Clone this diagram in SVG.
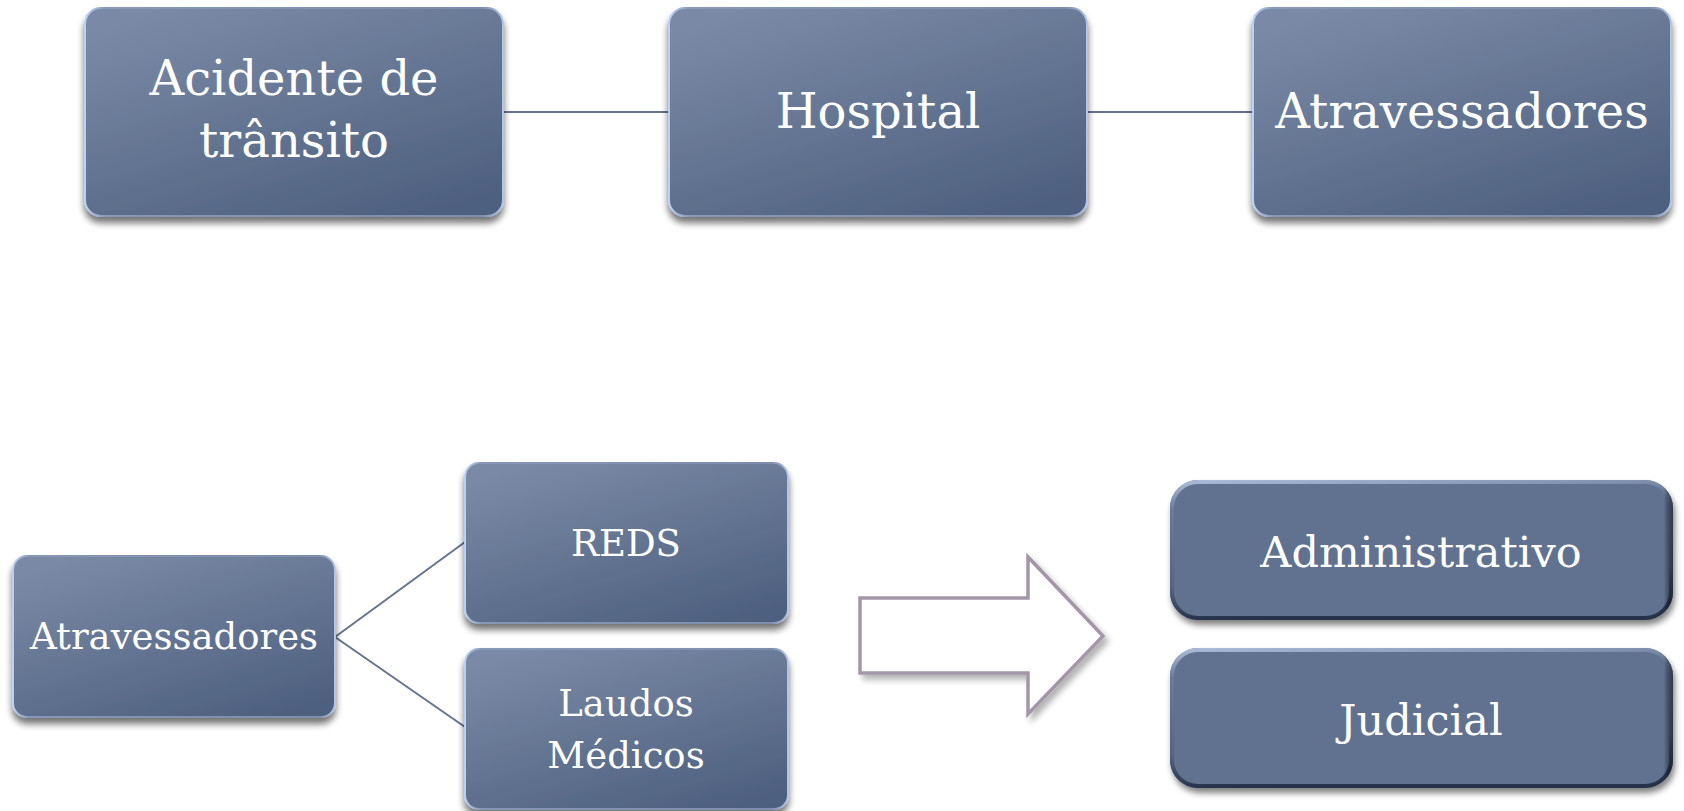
<svg xmlns="http://www.w3.org/2000/svg" width="1684" height="811" viewBox="0 0 1684 811">
<style>
.lbl{font-family:"DejaVu Serif","Liberation Serif",serif;fill:#ffffff;text-anchor:middle}
.t48{font-size:48px}
.t37{font-size:37px}
.t43{font-size:43px}
.box{fill:url(#gBox);stroke:url(#gEdge);stroke-width:2;filter:url(#shadow)}
.rbox{fill:#617290;filter:url(#shadow2)}
.rbevel{fill:none;stroke:url(#gBevel);stroke-width:4}
.conn{stroke:#65748e;stroke-width:2;fill:none}
</style>
<defs>
<linearGradient id="gBox" x1="0.2" y1="0" x2="0.8" y2="1">
<stop offset="0" stop-color="#7a8aa6"/>
<stop offset="1" stop-color="#4e607f"/>
</linearGradient>
<linearGradient id="gEdge" x1="0" y1="0" x2="1" y2="0">
<stop offset="0" stop-color="#bcd0f2"/>
<stop offset="0.05" stop-color="#8798b6"/>
<stop offset="0.95" stop-color="#7d8eac"/>
<stop offset="1" stop-color="#b3c6ea"/>
</linearGradient>
<linearGradient id="gBevel" x1="0" y1="0" x2="0.15" y2="1">
<stop offset="0" stop-color="#a9bad6"/>
<stop offset="0.2" stop-color="#6a7b98"/>
<stop offset="0.75" stop-color="#56667f"/>
<stop offset="1" stop-color="#25324a"/>
</linearGradient>
<linearGradient id="gSide" x1="0" y1="0" x2="1" y2="0">
<stop offset="0.982" stop-color="#000000" stop-opacity="0"/>
<stop offset="1" stop-color="#1c2840" stop-opacity="0.75"/>
</linearGradient>
<filter id="shadow" x="-10%" y="-10%" width="120%" height="130%">
<feGaussianBlur in="SourceAlpha" stdDeviation="3.5"/>
<feOffset dx="0" dy="6" result="b"/>
<feComponentTransfer><feFuncA type="linear" slope="0.55"/></feComponentTransfer>
<feMerge><feMergeNode/><feMergeNode in="SourceGraphic"/></feMerge>
</filter>
<filter id="shadow2" x="-10%" y="-10%" width="120%" height="130%">
<feGaussianBlur in="SourceAlpha" stdDeviation="3"/>
<feOffset dx="2" dy="5" result="b"/>
<feComponentTransfer><feFuncA type="linear" slope="0.5"/></feComponentTransfer>
<feMerge><feMergeNode/><feMergeNode in="SourceGraphic"/></feMerge>
</filter>
<filter id="ashadow" x="-10%" y="-10%" width="130%" height="130%">
<feGaussianBlur in="SourceAlpha" stdDeviation="3"/>
<feOffset dx="4" dy="5"/>
<feComponentTransfer><feFuncA type="linear" slope="0.3"/></feComponentTransfer>
<feMerge><feMergeNode/><feMergeNode in="SourceGraphic"/></feMerge>
</filter>
</defs>
<rect width="1684" height="811" fill="#ffffff"/>

<g id="connectors">
<line class="conn" x1="503" y1="112" x2="669" y2="112"/>
<line class="conn" x1="1087" y1="112" x2="1253" y2="112"/>
<line class="conn" x1="335" y1="637" x2="465" y2="542"/>
<line class="conn" x1="335" y1="637" x2="465" y2="727"/>
</g>

<g id="node-acidente">
<rect class="box" x="85" y="8" width="418" height="208" rx="16"/>
<text class="lbl t48" x="294" y="95">Acidente de</text>
<text class="lbl t48" x="294" y="157">trânsito</text>
</g>

<g id="node-hospital">
<rect class="box" x="669" y="8" width="418" height="208" rx="16"/>
<text class="lbl t48" x="878" y="128">Hospital</text>
</g>

<g id="node-atravessadores-top">
<rect class="box" x="1253" y="8" width="418" height="208" rx="16"/>
<text class="lbl t48" x="1462" y="128">Atravessadores</text>
</g>

<g id="node-atravessadores">
<rect class="box" x="13" y="556" width="322" height="161" rx="14"/>
<text class="lbl t37" x="174" y="649">Atravessadores</text>
</g>

<g id="node-reds">
<rect class="box" x="465" y="463" width="323" height="160" rx="14"/>
<text class="lbl t37" x="626" y="556">REDS</text>
</g>

<g id="node-laudos">
<rect class="box" x="465" y="649" width="323" height="160" rx="14"/>
<text class="lbl t37" x="626" y="716">Laudos</text>
<text class="lbl t37" x="626" y="768">Médicos</text>
</g>

<g id="arrow">
<polygon points="860,598 1028,598 1028,557 1103,636 1028,714 1028,673 860,673" fill="#ffffff" stroke="#a396a7" stroke-width="3.5" filter="url(#ashadow)"/>
</g>

<g id="node-administrativo">
<rect class="rbox" x="1170" y="480" width="503" height="140" rx="28"/>
<rect class="rbevel" x="1172" y="482" width="499" height="136" rx="26"/>
<rect x="1170" y="480" width="503" height="140" rx="28" fill="url(#gSide)"/>
<text class="lbl t43" x="1421" y="567">Administrativo</text>
</g>

<g id="node-judicial">
<rect class="rbox" x="1170" y="648" width="503" height="140" rx="28"/>
<rect class="rbevel" x="1172" y="650" width="499" height="136" rx="26"/>
<rect x="1170" y="648" width="503" height="140" rx="28" fill="url(#gSide)"/>
<text class="lbl t43" x="1421" y="735">Judicial</text>
</g>
</svg>
